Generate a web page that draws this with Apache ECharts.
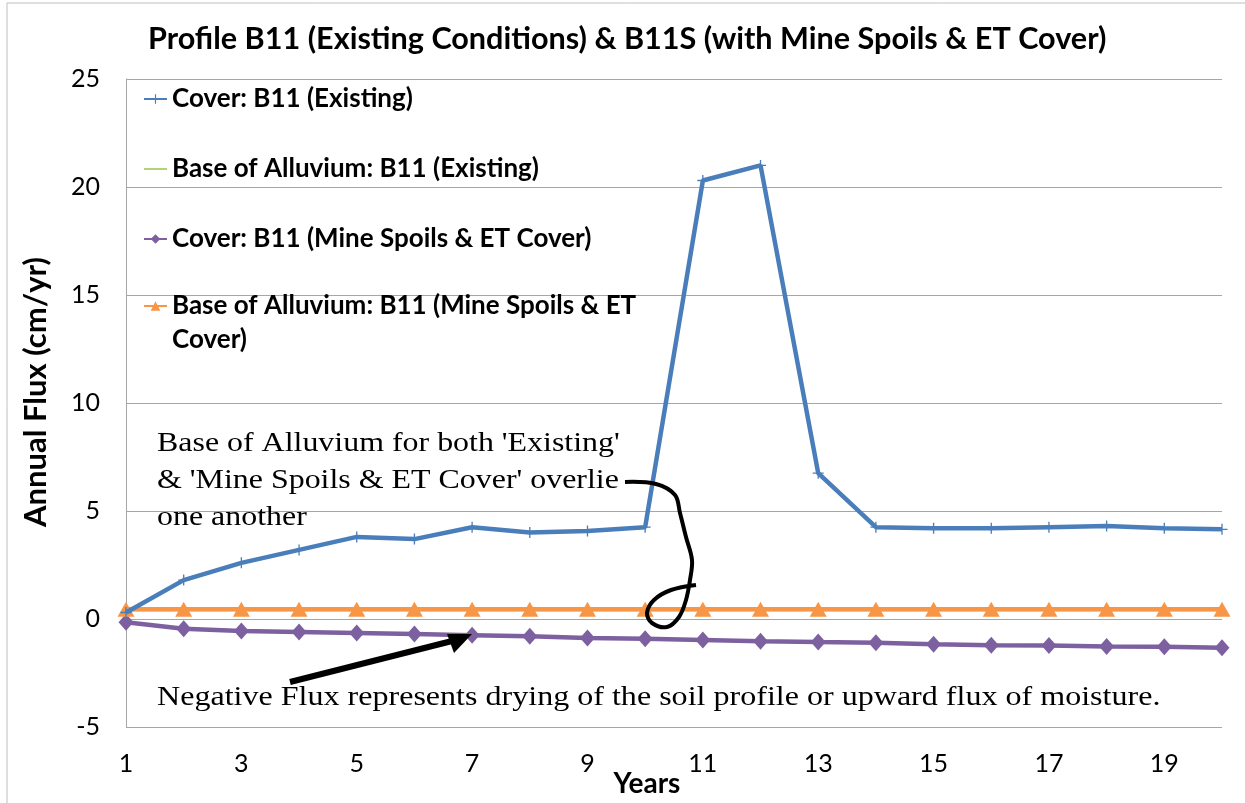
<!DOCTYPE html>
<html><head><meta charset="utf-8">
<script src="https://cdn.jsdelivr.net/npm/echarts@6/dist/echarts.min.js"></script>
<style>html,body{margin:0;padding:0;background:#fff}#c{width:1245px;height:803px}</style>
</head><body><div id="c"></div>
<script>
const years = ['1','2','3','4','5','6','7','8','9','10','11','12','13','14','15','16','17','18','19','20'];
const coverExisting = [0.3,1.8,2.6,3.2,3.8,3.7,4.25,4.0,4.07,4.25,20.3,21.0,6.75,4.25,4.2,4.2,4.25,4.3,4.2,4.15];
const baseExisting = [0.45,0.45,0.45,0.45,0.45,0.45,0.45,0.45,0.45,0.45,0.45,0.45,0.45,0.45,0.45,0.45,0.45,0.45,0.45,0.45];
const coverMine = [-0.15,-0.45,-0.55,-0.6,-0.65,-0.7,-0.75,-0.8,-0.88,-0.92,-0.97,-1.03,-1.07,-1.1,-1.17,-1.22,-1.23,-1.27,-1.28,-1.33];
const baseMine = [0.45,0.45,0.45,0.45,0.45,0.45,0.45,0.45,0.45,0.45,0.45,0.45,0.45,0.45,0.45,0.45,0.45,0.45,0.45,0.45];
const names = ['Cover: B11 (Existing)','Base of Alluvium: B11 (Existing)','Cover: B11 (Mine Spoils & ET Cover)','Base of Alluvium: B11 (Mine Spoils & ET Cover)'];

const plusPath = 'path://M4.4,0L5.6,0L5.6,4.4L10,4.4L10,5.6L5.6,5.6L5.6,10L4.4,10L4.4,5.6L0,5.6L0,4.4L4.4,4.4Z';
const lineIcon = 'path://M0,0L0,0M0,5.2L25,5.2L25,6.8L0,6.8ZM25,12L25,12';
const chart = echarts.init(document.getElementById('c'));
const lato = 'Lato';
const legText = {fontFamily:lato,fontWeight:'bold',fontSize:26,color:'#000',lineHeight:34};
chart.setOption({
  animation:false,
  backgroundColor:'#fff',
  title:{text:'Profile B11 (Existing Conditions) & B11S (with Mine Spoils & ET Cover)',left:148,top:24,padding:0,
    textStyle:{fontFamily:lato,fontWeight:'bold',fontSize:30.6,color:'#000'}},
  legend:[
    {orient:'vertical',left:143,top:82,padding:0,itemGap:36,itemWidth:23,itemHeight:12,
      data:[names[0],{name:names[1],icon:lineIcon},names[2]],
      textStyle:legText},
    {orient:'vertical',left:143,top:255,padding:0,itemWidth:23,itemHeight:12,
      data:[names[3]],
      formatter:()=> '\u00a0\nBase of Alluvium: B11 (Mine Spoils & ET\nCover)',
      textStyle:legText}
  ],
  grid:{left:126,right:23,top:79,bottom:76,outerBoundsMode:'none',containLabel:false},
  xAxis:{type:'category',data:years,boundaryGap:false,
    name:'Years',nameLocation:'middle',nameGap:43,nameMoveOverlap:false,
    nameTextStyle:{fontFamily:lato,fontWeight:'bold',fontSize:28,color:'#000',padding:[0,54,0,0]},
    axisLine:{show:false},axisTick:{show:false},
    axisLabel:{interval:1,fontFamily:lato,fontSize:25,color:'#000',margin:24}},
  yAxis:{type:'value',min:-5,max:25,interval:5,
    name:'Annual Flux (cm/yr)',nameLocation:'middle',nameGap:75,nameMoveOverlap:false,
    nameTextStyle:{fontFamily:lato,fontWeight:'bold',fontSize:31,color:'#000',padding:[0,0,0,22]},
    axisLine:{show:true,lineStyle:{color:'#a6a6a6',width:1}},axisTick:{show:false},
    axisLabel:{fontFamily:lato,fontSize:25,color:'#000',margin:26},
    splitLine:{lineStyle:{color:'#a6a6a6',width:1}}},
  series:[
    {name:names[0],type:'line',data:coverExisting,symbol:plusPath,symbolSize:11,
      lineStyle:{color:'#4a7ebb',width:4.5},itemStyle:{color:'#4a7ebb'},z:4},
    {name:names[1],type:'line',data:baseExisting,symbol:'none',
      lineStyle:{color:'#98c34a',width:4},itemStyle:{color:'#98c34a'},z:2},
    {name:names[2],type:'line',data:coverMine,symbol:'diamond',symbolSize:[15,17],
      lineStyle:{color:'#7d60a0',width:4.5},itemStyle:{color:'#7d60a0'},z:3},
    {name:names[3],type:'line',data:baseMine,symbol:'triangle',symbolSize:[17,15],
      lineStyle:{color:'#f79646',width:4.5},itemStyle:{color:'#f79646'},z:3}
  ],
  graphic:[
    {type:'rect',shape:{x:7,y:3,width:1400,height:900},style:{fill:'none',stroke:'#bfbfbf',lineWidth:1},silent:true,z:-1},
    {type:'text',x:157,y:425,scaleX:1.14,style:{text:"Base of Alluvium for both 'Existing'\n& 'Mine Spoils & ET Cover' overlie\none another",
      font:'28px "Liberation Serif"',lineHeight:37,fill:'#000'},z:10},
    {type:'text',x:157,y:679,scaleX:1.145,style:{text:'Negative Flux represents drying of the soil profile or upward flux of moisture.',
      font:'28px "Liberation Serif"',lineHeight:38,fill:'#000'},z:10},
    {type:'polyline',shape:{points:[[290,682],[456,640]]},style:{stroke:'#000',lineWidth:6,fill:'none'},z:10},
    {type:'polygon',shape:{points:[[472,634],[447,634],[454,653]]},style:{fill:'#000'},z:10},
    {type:'polyline',shape:{smooth:0.35,points:[[625,482],[656,484],[675,495],[680,513],[686,537],[692,560],[690,580],[686,600],[679,617],[667,627],[652,623],[647,613],[654,600],[671,590],[696,585]]},
      style:{stroke:'#000',lineWidth:4,fill:'none'},z:10}
  ]
});
</script></body></html>
